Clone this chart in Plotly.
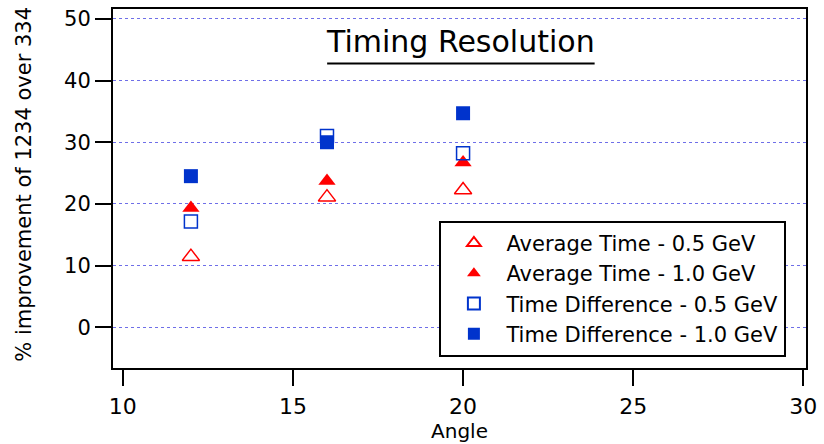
import plotly.graph_objects as go

angles = [12, 16, 20]
avg_05 = [11.45, 21.1, 22.25]
avg_10 = [19.35, 23.7, 26.7]
td_05 = [17.15, 31.0, 28.2]
td_10 = [24.5, 30.0, 34.7]

series_names = ["Average Time - 0.5 GeV", "Average Time - 1.0 GeV",
                "Time Difference - 0.5 GeV", "Time Difference - 1.0 GeV"]
x_ticks = [10, 15, 20, 25, 30]
y_ticks = [0, 10, 20, 30, 40, 50]

FONT = "DejaVu Sans"
RED = "#ff0000"
BLUE = "#0033cc"

fig = go.Figure()
fig.add_trace(go.Scatter(x=angles, y=avg_05, mode="markers", name=series_names[0],
                         marker=dict(symbol="triangle-up-open", size=15, color=RED,
                                     line=dict(width=1.5, color=RED))))
fig.add_trace(go.Scatter(x=angles, y=avg_10, mode="markers", name=series_names[1],
                         marker=dict(symbol="triangle-up", size=15, color=RED,
                                     line=dict(width=0))))
fig.add_trace(go.Scatter(x=angles, y=td_05, mode="markers", name=series_names[2],
                         marker=dict(symbol="square-open", size=13, color=BLUE,
                                     line=dict(width=1.5, color=BLUE))))
fig.add_trace(go.Scatter(x=angles, y=td_10, mode="markers", name=series_names[3],
                         marker=dict(symbol="square", size=14, color=BLUE,
                                     line=dict(width=0))))

fig.update_layout(
    width=824, height=444,
    margin=dict(l=113, r=12, t=7, b=76),
    paper_bgcolor="white", plot_bgcolor="white",
    font=dict(family=FONT, size=20, color="black"),
    showlegend=True,
    legend=dict(x=0.471, y=0.41, xanchor="left", yanchor="top",
                bgcolor="white", bordercolor="black", borderwidth=2,
                font=dict(family=FONT, size=21, color="black"),
                itemsizing="constant", itemwidth=55, tracegroupgap=0),
    xaxis=dict(range=[9.71, 30.08], tickvals=x_ticks, showgrid=False, zeroline=False,
               showline=True, linecolor="black", linewidth=2, mirror=True,
               ticks="outside", ticklen=16, tickwidth=2, tickcolor="black",
               tickfont=dict(family=FONT, size=22), ticklabelstandoff=2,
               title=dict(text="Angle", font=dict(family=FONT, size=20), standoff=0)),
    yaxis=dict(range=[-6.6, 51.6], tickvals=y_ticks, showgrid=True,
               gridcolor="#6f6fe8", griddash="dot", gridwidth=1, zeroline=False,
               showline=True, linecolor="black", linewidth=2, mirror=True,
               ticks="outside", ticklen=16, tickwidth=2, tickcolor="black",
               tickfont=dict(family=FONT, size=21)),
)

fig.add_annotation(text="% improvement of 1234 over 334", xref="paper", yref="paper",
                   x=-0.1288, y=0.5125, xanchor="center", yanchor="middle",
                   textangle=-90, showarrow=False,
                   font=dict(family=FONT, size=21, color="black"))
fig.add_annotation(text="Timing Resolution", xref="paper", yref="paper",
                   x=0.501, y=0.909, xanchor="center", yanchor="middle",
                   showarrow=False, font=dict(family=FONT, size=30, color="black"))
fig.add_shape(type="line", xref="paper", yref="paper",
              x0=0.309, x1=0.695, y0=0.848, y1=0.848,
              line=dict(color="black", width=2))

fig.write_html("out.html")
